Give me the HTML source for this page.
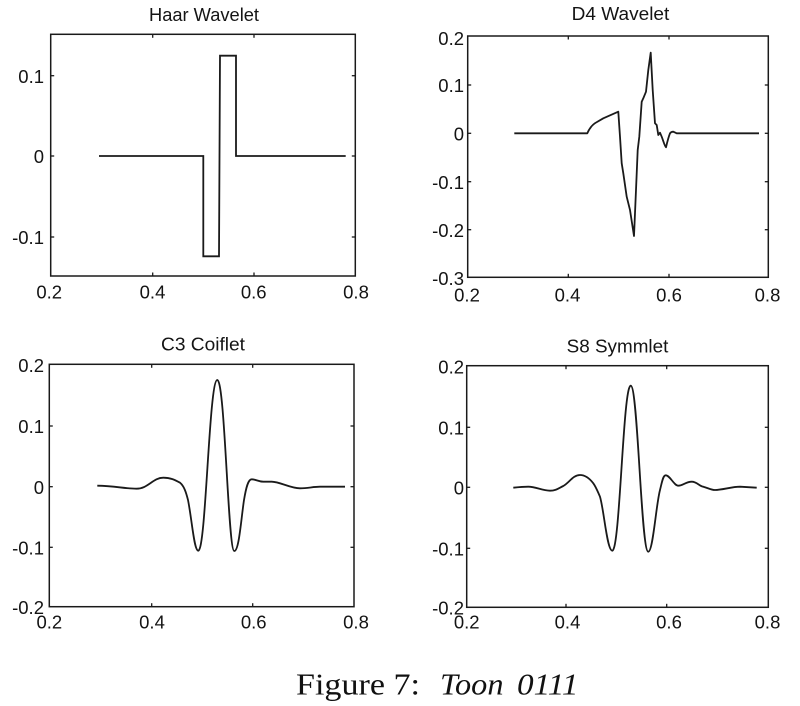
<!DOCTYPE html>
<html>
<head>
<meta charset="utf-8">
<style>
html,body{margin:0;padding:0;background:#fff;}
svg{display:block;}
.t{font-family:"Liberation Sans",Arial,sans-serif;font-size:18.5px;fill:#141414;}
.ttl{font-family:"Liberation Sans",Arial,sans-serif;font-size:18px;fill:#141414;}
.cap{font-family:"Liberation Serif","Times New Roman",serif;font-size:31px;fill:#111;}
</style>
</head>
<body>
<svg width="800" height="706" viewBox="0 0 800 706" xmlns="http://www.w3.org/2000/svg">
<rect width="800" height="706" fill="#fff"/>

<!-- ============ Haar Wavelet ============ -->
<text class="ttl" x="204" y="21" text-anchor="middle" textLength="110" lengthAdjust="spacingAndGlyphs">Haar Wavelet</text>
<rect x="50.7" y="34.3" width="304.6" height="241.7" fill="none" stroke="#1a1a1a" stroke-width="1.5"/>
<g stroke="#1a1a1a" stroke-width="1.3">
<line x1="152.7" y1="276" x2="152.7" y2="272.5"/><line x1="254" y1="276" x2="254" y2="272.5"/>
<line x1="152.7" y1="34.3" x2="152.7" y2="37.8"/><line x1="254" y1="34.3" x2="254" y2="37.8"/>
<line x1="50.7" y1="75.7" x2="54.2" y2="75.7"/><line x1="50.7" y1="156" x2="54.2" y2="156"/><line x1="50.7" y1="237" x2="54.2" y2="237"/>
<line x1="355.3" y1="75.7" x2="351.8" y2="75.7"/><line x1="355.3" y1="156" x2="351.8" y2="156"/><line x1="355.3" y1="237" x2="351.8" y2="237"/>
</g>
<text class="t" x="44" y="83" text-anchor="end">0.1</text>
<text class="t" x="44" y="163" text-anchor="end">0</text>
<text class="t" x="44" y="244" text-anchor="end">-0.1</text>
<text class="t" x="49.2" y="298.3" text-anchor="middle">0.2</text>
<text class="t" x="152.5" y="298.3" text-anchor="middle">0.4</text>
<text class="t" x="253.7" y="298.3" text-anchor="middle">0.6</text>
<text class="t" x="356" y="298.3" text-anchor="middle">0.8</text>
<path d="M99,156 L203.3,156 L203.3,256.3 L219,256.3 L220,55.7 L236,55.7 L236,156 L345.7,156" fill="none" stroke="#1a1a1a" stroke-width="1.8" stroke-linejoin="miter"/>

<!-- ============ D4 Wavelet ============ -->
<text class="ttl" x="620.5" y="20" text-anchor="middle" textLength="97.6" lengthAdjust="spacingAndGlyphs">D4 Wavelet</text>
<rect x="467.7" y="36" width="300.6" height="241.3" fill="none" stroke="#1a1a1a" stroke-width="1.5"/>
<g stroke="#1a1a1a" stroke-width="1.3">
<line x1="568.3" y1="277.3" x2="568.3" y2="273.8"/><line x1="669" y1="277.3" x2="669" y2="273.8"/>
<line x1="568.3" y1="36" x2="568.3" y2="39.5"/><line x1="669" y1="36" x2="669" y2="39.5"/>
<line x1="467.7" y1="85" x2="471.2" y2="85"/><line x1="467.7" y1="133.3" x2="471.2" y2="133.3"/><line x1="467.7" y1="181.7" x2="471.2" y2="181.7"/><line x1="467.7" y1="229.7" x2="471.2" y2="229.7"/>
<line x1="768.3" y1="85" x2="764.8" y2="85"/><line x1="768.3" y1="133.3" x2="764.8" y2="133.3"/><line x1="768.3" y1="181.7" x2="764.8" y2="181.7"/><line x1="768.3" y1="229.7" x2="764.8" y2="229.7"/>
</g>
<text class="t" x="464" y="45" text-anchor="end">0.2</text>
<text class="t" x="464" y="92" text-anchor="end">0.1</text>
<text class="t" x="464" y="140.5" text-anchor="end">0</text>
<text class="t" x="464" y="189" text-anchor="end">-0.1</text>
<text class="t" x="464" y="237" text-anchor="end">-0.2</text>
<text class="t" x="464" y="285" text-anchor="end">-0.3</text>
<text class="t" x="467" y="301.7" text-anchor="middle">0.2</text>
<text class="t" x="567.5" y="301.7" text-anchor="middle">0.4</text>
<text class="t" x="669" y="301.7" text-anchor="middle">0.6</text>
<text class="t" x="767.5" y="301.7" text-anchor="middle">0.8</text>
<path d="M514.3,133.3 L587.3,133.3 C590,127 593,124 597,122 L603.3,118.3 L618.3,111.7 L620,136.7 L621.7,163.3 L623.3,173.3 L626.7,196.7 L630,210 L634,236 L636,190 L637.7,150 L639.3,136.7 L641.7,101.7 L643.3,98.3 L646,91.7 L648.3,70 L650.7,52.7 L652.7,90 L655,123.3 L656.7,125 L658.3,135 L660,132.7 L661.7,136.7 C663,140 665,147 666,147.3 C667,143 668.5,137 670,133.3 C671,132 672,131.7 673.3,131.7 L676.7,133.3 L759,133.3" fill="none" stroke="#1a1a1a" stroke-width="1.8" stroke-linejoin="round"/>

<!-- ============ C3 Coiflet ============ -->
<text class="ttl" x="203" y="350.7" text-anchor="middle" textLength="84" lengthAdjust="spacingAndGlyphs">C3 Coiflet</text>
<rect x="49.3" y="364.3" width="304.7" height="242.4" fill="none" stroke="#1a1a1a" stroke-width="1.5"/>
<g stroke="#1a1a1a" stroke-width="1.3">
<line x1="151.7" y1="606.7" x2="151.7" y2="603.2"/><line x1="252.7" y1="606.7" x2="252.7" y2="603.2"/>
<line x1="151.7" y1="364.3" x2="151.7" y2="367.8"/><line x1="252.7" y1="364.3" x2="252.7" y2="367.8"/>
<line x1="49.3" y1="426" x2="52.8" y2="426"/><line x1="49.3" y1="486.7" x2="52.8" y2="486.7"/><line x1="49.3" y1="547.3" x2="52.8" y2="547.3"/>
<line x1="354" y1="426" x2="350.5" y2="426"/><line x1="354" y1="486.7" x2="350.5" y2="486.7"/><line x1="354" y1="547.3" x2="350.5" y2="547.3"/>
</g>
<text class="t" x="44" y="372" text-anchor="end">0.2</text>
<text class="t" x="44" y="433" text-anchor="end">0.1</text>
<text class="t" x="44" y="494" text-anchor="end">0</text>
<text class="t" x="44" y="554.5" text-anchor="end">-0.1</text>
<text class="t" x="44" y="614" text-anchor="end">-0.2</text>
<text class="t" x="49.3" y="628.3" text-anchor="middle">0.2</text>
<text class="t" x="152" y="628.3" text-anchor="middle">0.4</text>
<text class="t" x="253.7" y="628.3" text-anchor="middle">0.6</text>
<text class="t" x="356" y="628.3" text-anchor="middle">0.8</text>
<path d="M97.3,485.7 C115,486 125,488.7 136.7,488.7 C148,488.7 153,477.7 163.3,477.7 C171,477.7 175,480 180,482.7 C184,486 186,492 188,500 C192,520 194,550.7 198.3,550.7 C206,550.7 209,380 217.3,380 C225,380 228,551 234.3,551 C239,551 241,520 244,500 C246,488 248,479.3 251.7,479.3 C256,479.3 258,481.7 263.3,481.7 L271.7,481.7 C280,481.7 290,488.3 300,488.3 C308,488.3 313,486.7 320,486.7 L345,486.7" fill="none" stroke="#1a1a1a" stroke-width="1.8"/>

<!-- ============ S8 Symmlet ============ -->
<text class="ttl" x="617.5" y="352.3" text-anchor="middle" textLength="101.7" lengthAdjust="spacingAndGlyphs">S8 Symmlet</text>
<rect x="466.7" y="365.7" width="301.6" height="241.6" fill="none" stroke="#1a1a1a" stroke-width="1.5"/>
<g stroke="#1a1a1a" stroke-width="1.3">
<line x1="566" y1="607.3" x2="566" y2="603.8"/><line x1="666.7" y1="607.3" x2="666.7" y2="603.8"/>
<line x1="566" y1="365.7" x2="566" y2="369.2"/><line x1="666.7" y1="365.7" x2="666.7" y2="369.2"/>
<line x1="466.7" y1="427.3" x2="470.2" y2="427.3"/><line x1="466.7" y1="487.3" x2="470.2" y2="487.3"/><line x1="466.7" y1="548.3" x2="470.2" y2="548.3"/>
<line x1="768.3" y1="427.3" x2="764.8" y2="427.3"/><line x1="768.3" y1="487.3" x2="764.8" y2="487.3"/><line x1="768.3" y1="548.3" x2="764.8" y2="548.3"/>
</g>
<text class="t" x="464" y="373.5" text-anchor="end">0.2</text>
<text class="t" x="464" y="434.5" text-anchor="end">0.1</text>
<text class="t" x="464" y="494.5" text-anchor="end">0</text>
<text class="t" x="464" y="555.5" text-anchor="end">-0.1</text>
<text class="t" x="464" y="614.5" text-anchor="end">-0.2</text>
<text class="t" x="466.7" y="628.3" text-anchor="middle">0.2</text>
<text class="t" x="567.5" y="628.3" text-anchor="middle">0.4</text>
<text class="t" x="669" y="628.3" text-anchor="middle">0.6</text>
<text class="t" x="767.5" y="628.3" text-anchor="middle">0.8</text>
<path d="M513.3,487.7 C520,487 524,486.7 528.3,486.7 C536,486.7 542,490.7 550,490.7 C556,490.7 559,488 563.3,486 C569,483 573,475 580,475 C586,475 590,479 593.3,483.3 C596,487 597,490 600,496.7 C604,510 607,550.7 612.3,550.7 C620,550.7 623,385.7 630.7,385.7 C638,385.7 641,551.7 648.3,551.7 C653,551.7 656,505 660,490 C662,482 663,475.3 665.7,475.3 C670,475.3 674,485.7 678.3,485.7 C683,485.7 686,481.7 691.7,481.7 C697,481.7 699,486 703.3,486.7 C708,488 711,490 715,490 C722,490 732,486.7 740,486.7 L756.7,487.7" fill="none" stroke="#1a1a1a" stroke-width="1.8"/>

<!-- ============ Caption ============ -->
<text class="cap" x="296" y="694.5" textLength="124" lengthAdjust="spacingAndGlyphs">Figure 7:</text>
<text class="cap" x="440" y="694.5" font-style="italic" textLength="63.5" lengthAdjust="spacingAndGlyphs">Toon</text>
<text class="cap" x="517" y="694.5" font-style="italic" textLength="61.5" lengthAdjust="spacingAndGlyphs">0111</text>
</svg>
</body>
</html>
